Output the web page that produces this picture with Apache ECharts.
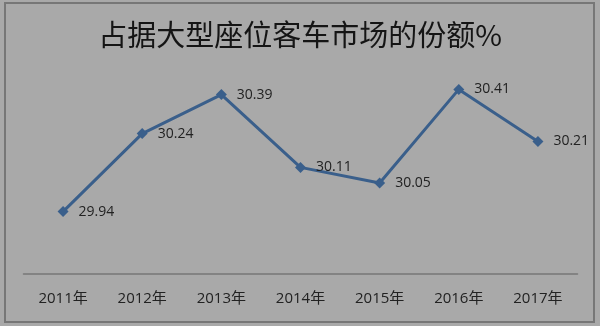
<!DOCTYPE html>
<html>
<head>
<meta charset="utf-8">
<script src="https://cdn.jsdelivr.net/npm/echarts@6/dist/echarts.min.js"></script>
<style>
html,body{margin:0;padding:0;background:#a9a9a9;}
#main{width:600px;height:326px;}
</style>
</head>
<body>
<div id="main"></div>
<script>
var titleText = '占据大型座位客车市场的份额%';
var categories = ['2011年','2012年','2013年','2014年','2015年','2016年','2017年'];
var shareValues = [29.94, 30.24, 30.39, 30.11, 30.05, 30.41, 30.21];

var chart = echarts.init(document.getElementById('main'));
chart.setOption({
  backgroundColor: '#a9a9a9',
  animation: false,
  title: {
    text: titleText,
    left: 'center',
    top: 15,
    textStyle: {
      fontFamily: '"Noto Sans CJK SC", sans-serif',
      fontSize: 29,
      fontWeight: 'normal',
      color: '#151515'
    }
  },
  graphic: [{
    type: 'rect',
    shape: {x: 5, y: 3, width: 589, height: 319},
    style: {fill: 'none', stroke: '#777777', lineWidth: 2},
    silent: true
  }],
  grid: {left: 23.5, right: 22.5, top: 66, bottom: 52},
  xAxis: {
    type: 'category',
    data: categories,
    boundaryGap: true,
    axisLine: {show: true, lineStyle: {color: '#777777', width: 1.5}},
    axisTick: {show: false},
    axisLabel: {
      margin: 17,
      fontSize: 15,
      color: '#222222',
      fontFamily: '"Open Sans", "Noto Sans CJK SC", sans-serif'
    }
  },
  yAxis: {
    type: 'value',
    min: 29.7,
    max: 30.5,
    show: false,
    splitLine: {show: false}
  },
  series: [{
    type: 'line',
    data: shareValues,
    symbol: 'diamond',
    symbolSize: 11,
    lineStyle: {color: '#3a5f8b', width: 3},
    itemStyle: {color: '#3a5f8b'},
    label: {
      show: true,
      position: 'right',
      distance: 10,
      fontSize: 14,
      color: '#222222',
      fontFamily: '"Open Sans", sans-serif',
      formatter: function (p) { return p.value.toFixed(2); }
    }
  }]
});
</script>
</body>
</html>
